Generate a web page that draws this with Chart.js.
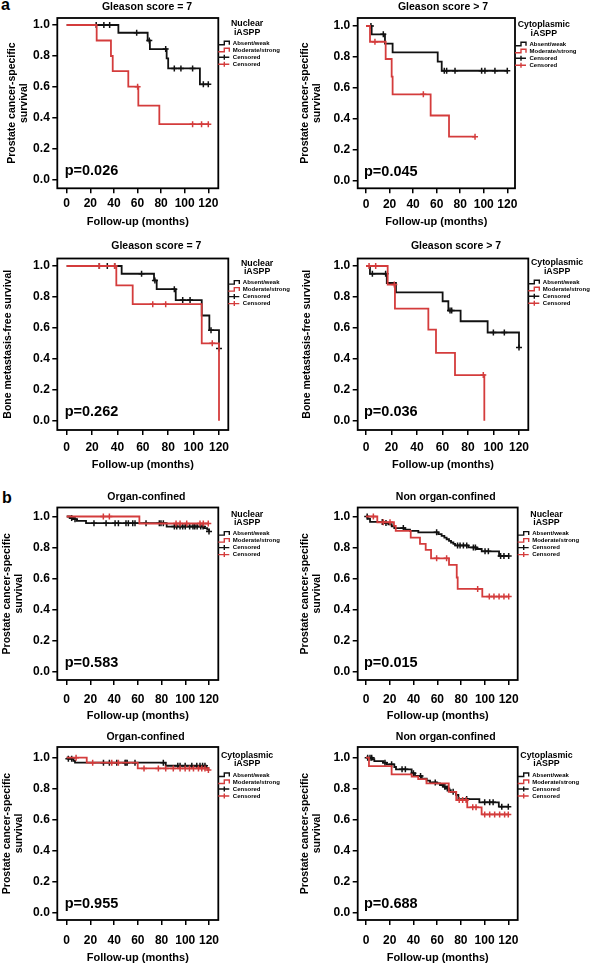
<!DOCTYPE html>
<html>
<head>
<meta charset="utf-8">
<script src="https://cdn.jsdelivr.net/npm/chart.js@4.4.1/dist/chart.umd.min.js"></script>
<style>
  html, body { margin: 0; padding: 0; background: #fff; }
  body { position: relative; width: 590px; height: 965px; overflow: hidden; font-family: 'Liberation Sans', Arial, sans-serif; }
  canvas { position: absolute; }
  .tag { position: absolute; font-weight: bold; font-size: 16px; line-height: 16px; }
</style>
</head>
<body>
<div class="tag" style="left:1px;top:-3.5px">a</div>
<div class="tag" style="left:2px;top:490px">b</div>
<script>
const xTicks = [0, 20, 40, 60, 80, 100, 120];
const yTicks = [0, 0.2, 0.4, 0.6, 0.8, 1.0];
const legendRows = ['Absent/weak', 'Moderate/strong', 'Censored', 'Censored'];

const panelTitles = ['Gleason score = 7', 'Gleason score > 7', 'Gleason score = 7', 'Gleason score > 7',
  'Organ-confined', 'Non organ-confined', 'Organ-confined', 'Non organ-confined'];
const pValues = ['p=0.026', 'p=0.045', 'p=0.262', 'p=0.036', 'p=0.583', 'p=0.015', 'p=0.955', 'p=0.688'];
const stainings = ['Nuclear', 'Cytoplasmic', 'Nuclear', 'Cytoplasmic', 'Nuclear', 'Nuclear', 'Cytoplasmic', 'Cytoplasmic'];
const yTitlePCSS = ['Prostate cancer-specific', 'survival'];
const yTitleBMFS = 'Bone metastasis-free survival';
const xTitle = 'Follow-up (months)';

// step times (months), survival after each step, censor times
// a: cancer-specific survival, Gleason 7, nuclear
const p1WeakT = [0, 43.8, 68.6, 70.5, 84.7, 86, 112.9, 120];
const p1WeakS = [1, 0.95, 0.90, 0.845, 0.785, 0.72, 0.617, 0.617];
const p1WeakC = [25, 31.5, 36.4, 59.3, 70, 83.9, 91.2, 96.8, 106.7, 115.8, 120];
const p1StrongT = [0, 25.4, 37.5, 39, 52.2, 60.7, 78.5, 120];
const p1StrongS = [1, 0.9, 0.8, 0.703, 0.602, 0.48, 0.36, 0.36];
const p1StrongC = [60.1, 106.7, 114.3, 120];

// a: cancer-specific survival, Gleason > 7, cytoplasmic
const p2WeakT = [0, 4.8, 16.1, 22.6, 60.9, 64.3, 120];
const p2WeakS = [1, 0.946, 0.886, 0.829, 0.769, 0.71, 0.71];
const p2WeakC = [4.2, 14.7, 66.5, 68.5, 75.6, 98.2, 101, 109.5, 120];
const p2StrongT = [0, 3.4, 16.7, 21.8, 22.6, 54.9, 70.5, 92.6];
const p2StrongS = [1, 0.898, 0.786, 0.672, 0.557, 0.42, 0.283, 0.283];
const p2StrongC = [7.6, 48.7, 92.6];

// a: bone metastasis-free, Gleason 7, nuclear
const p3WeakT = [0, 43.3, 68.8, 70.9, 85.9, 106.4, 112.4, 120];
const p3WeakS = [1, 0.95, 0.907, 0.85, 0.78, 0.68, 0.585, 0.467];
const p3WeakC = [25.7, 32, 37.8, 59, 69.5, 84.8, 91.4, 97.2, 113.7, 120];
const p3StrongT = [0, 39.1, 52, 106.4, 120];
const p3StrongS = [1, 0.875, 0.753, 0.5, 0];
const p3StrongC = [25.7, 37.8, 67.8, 78, 114.7];

// a: bone metastasis-free, Gleason > 7, cytoplasmic
const p4WeakT = [0, 3.1, 16.3, 23.5, 60.1, 64.6, 74.2, 95.4, 120];
const p4WeakS = [1, 0.95, 0.89, 0.83, 0.772, 0.712, 0.643, 0.57, 0.473];
const p4WeakC = [5, 15.4, 65.9, 67.2, 99.9, 108.5, 120];
const p4StrongT = [0, 17, 22.7, 48.9, 54.9, 69.8, 92.8];
const p4StrongS = [1, 0.88, 0.725, 0.589, 0.439, 0.295, 0];
const p4StrongC = [2.4, 7.6, 22.2, 92];

// b: organ-confined, nuclear
const p5WeakT = [0, 2.8, 5.6, 8.4, 16.3, 84.3, 115.8, 118.5, 120];
const p5WeakS = [1, 0.99, 0.983, 0.972, 0.957, 0.935, 0.925, 0.915, 0.903];
const p5WeakC = [4.2, 7, 23, 33.2, 40.8, 43.6, 50, 52, 55.7, 57.6, 66.9, 78.1, 79.5, 81.5, 90.8, 92.8,
  95.6, 97.8, 100, 103.7, 106.5, 108, 110, 113, 115, 120];
const p5StrongT = [0, 61.3, 120];
const p5StrongS = [1, 0.955, 0.955];
const p5StrongC = [30.9, 36, 92.2, 95.6, 101.2, 112.4, 115.2, 119.4];

// b: non organ-confined, nuclear
const p6WeakT = [0, 1.4, 3.4, 15.4, 18.8, 21.6, 23.8, 32.8, 37, 44, 60.8, 63.6, 65.9, 67.8, 69.8, 71.5,
  73.5, 74.9, 86.1, 93.1, 97.3, 111.9, 120];
const p6WeakS = [1, 0.985, 0.965, 0.958, 0.95, 0.937, 0.925, 0.915, 0.907, 0.898, 0.886, 0.875, 0.864,
  0.853, 0.843, 0.832, 0.823, 0.813, 0.80, 0.79, 0.775, 0.745, 0.745];
const p6WeakC = [1, 13.7, 16.8, 31.4, 59.4, 77, 79.1, 81.9, 84.7, 90.3, 92, 100.1, 102.9, 113.2, 116, 120];
const p6StrongT = [0, 9.5, 23.5, 25, 37.6, 45.4, 50.2, 54.7, 69.8, 76.3, 77.1, 97.8, 120];
const p6StrongS = [1, 0.963, 0.94, 0.907, 0.864, 0.823, 0.785, 0.73, 0.687, 0.606, 0.532, 0.483, 0.483];
const p6StrongC = [6.2, 14.6, 20.2, 59.4, 67.8, 93.9, 103.7, 107.6, 111.9, 116, 120];

// b: organ-confined, cytoplasmic
const p7WeakT = [0, 0.8, 5.6, 7, 83.5, 117.5, 119.5, 120];
const p7WeakS = [1, 0.994, 0.98, 0.968, 0.948, 0.935, 0.92, 0.92];
const p7WeakC = [1.4, 4.2, 31, 36, 42.2, 49.2, 50, 51, 57.6, 81.5, 93.7, 95.6, 99.9, 105.5, 109.7, 112.4,
  114.6, 116.6];
const p7StrongT = [0, 16.9, 59.9, 119.5, 120];
const p7StrongS = [1, 0.968, 0.931, 0.92, 0.92];
const p7StrongC = [7.9, 21.9, 38, 43.6, 65.2, 77.3, 83.5, 89.9, 95.6, 99.9, 103.5, 106.9, 111.1, 113.9,
  116.6, 119.5];

// b: non organ-confined, cytoplasmic
const p8WeakT = [0, 5.3, 7, 14.6, 17.4, 23.9, 25.3, 38.5, 41.3, 47, 51.2, 54, 59.6, 62.4, 65.2, 67.5,
  69.8, 71.5, 75.9, 77.9, 95.6, 112, 120];
const p8WeakS = [1, 0.99, 0.978, 0.968, 0.957, 0.94, 0.925, 0.9, 0.882, 0.865, 0.852, 0.84, 0.834,
  0.824, 0.813, 0.802, 0.79, 0.78, 0.76, 0.733, 0.712, 0.684, 0.684];
const p8WeakC = [1.4, 3.4, 4.8, 16, 21.6, 30.4, 33.2, 40, 46, 58.4, 66.5, 68.6, 73.5, 84.9, 100.1,
  104.3, 107.2, 114.5, 120];
const p8StrongT = [0, 2.5, 21.6, 38.5, 44, 51, 69.8, 76.1, 85.4, 97.5, 120];
const p8StrongS = [1, 0.946, 0.893, 0.878, 0.862, 0.835, 0.78, 0.727, 0.68, 0.634, 0.634];
const p8StrongC = [78.6, 81.5, 84.4, 90, 92.8, 100.1, 104.3, 108.5, 112.7, 116.9, 120];

const curves = [
  [p1WeakT, p1WeakS, p1WeakC, p1StrongT, p1StrongS, p1StrongC],
  [p2WeakT, p2WeakS, p2WeakC, p2StrongT, p2StrongS, p2StrongC],
  [p3WeakT, p3WeakS, p3WeakC, p3StrongT, p3StrongS, p3StrongC],
  [p4WeakT, p4WeakS, p4WeakC, p4StrongT, p4StrongS, p4StrongC],
  [p5WeakT, p5WeakS, p5WeakC, p5StrongT, p5StrongS, p5StrongC],
  [p6WeakT, p6WeakS, p6WeakC, p6StrongT, p6StrongS, p6StrongC],
  [p7WeakT, p7WeakS, p7WeakC, p7StrongT, p7StrongS, p7StrongC],
  [p8WeakT, p8WeakS, p8WeakC, p8StrongT, p8StrongS, p8StrongC]
];

// page geometry of each panel (px)
const geo = [
  {cx: 0,   cy: 0,   ch: 232, box: [57.3, 18, 218.3, 188.3],   x0: 66.7, x120: 208.3, y1: 25,    y0: 180,   tt: [147, 7],       leg: 24,    yt: 12,    xt: 221.7, tp: 2.8},
  {cx: 295, cy: 0,   ch: 232, box: [357.7, 18, 515, 188.3],    x0: 366,  x120: 507.3, y1: 26,    y0: 180.3, tt: [443, 7],       leg: 25,    yt: 305,   xt: 221.7, tp: 3.8},
  {cx: 0,   cy: 234, ch: 238, box: [57.3, 258.5, 228.3, 430],  x0: 66.7, x120: 219,   y1: 266,   y0: 420.7, tt: [156.3, 246],   leg: 263.3, yt: 8.3,   xt: 465,   tp: 5.4},
  {cx: 295, cy: 234, ch: 238, box: [357.7, 258.5, 528.3, 430], x0: 366,  x120: 519,   y1: 266,   y0: 420.7, tt: [456, 246],     leg: 263,   yt: 306.7, xt: 465,   tp: 5.4},
  {cx: 0,   cy: 484, ch: 240, box: [57.3, 507.5, 218.3, 680],  x0: 66.7, x120: 209,   y1: 516.5, y0: 671.7, tt: [146.3, 496.7], leg: 514.3, yt: 7.3,   xt: 716,   tp: 7.4},
  {cx: 295, cy: 484, ch: 240, box: [357.7, 507.5, 517.7, 680], x0: 366,  x120: 508.7, y1: 516.5, y0: 671.3, tt: [445.7, 496.7], leg: 514.3, yt: 305,   xt: 716,   tp: 7.4},
  {cx: 0,   cy: 726, ch: 239, box: [57.3, 747, 218.3, 920],    x0: 66.7, x120: 209,   y1: 757.7, y0: 912.7, tt: [145.5, 737.3], leg: 755.7, yt: 7.3,   xt: 957.7, tp: 8.1},
  {cx: 295, cy: 726, ch: 239, box: [357.7, 747, 517.7, 920],   x0: 366,  x120: 508.3, y1: 757.7, y0: 912.7, tt: [445.7, 737.3], leg: 755.7, yt: 305,   xt: 957.7, tp: 8.1}
];

const FONT = "'Liberation Sans', Arial, sans-serif";
const BLACK = '#111';
const RED = '#d43c3c';
const CW = 295;

function stepPoints(t, s) {
  return t.map((v, i) => ({x: v, y: s[i]}));
}
// censored marks sit on the curve at their time
function censorPoints(t, s, c) {
  return c.map(ct => {
    let y = s[0];
    for (let i = 0; i < t.length; i++) if (t[i] <= ct) y = s[i];
    return {x: ct, y};
  });
}

function makePanel(i) {
  const g = geo[i];
  const [wT, wS, wC, sT, sS, sC] = curves[i];
  const [L, T, R, B] = g.box;
  const kx = (g.x120 - g.x0) / 120;
  const ky = g.y0 - g.y1;
  const xmin = (L - g.x0) / kx, xmax = 120 + (R - g.x120) / kx;
  const ymax = 1 + (g.y1 - T) / ky, ymin = -(B - g.y0) / ky;
  const isPCSS = i !== 2 && i !== 3;

  const cv = document.createElement('canvas');
  cv.width = CW; cv.height = g.ch;
  cv.style.left = g.cx + 'px'; cv.style.top = g.cy + 'px';
  document.body.appendChild(cv);

  const deco = {
    id: 'deco',
    afterDraw(chart) {
      const ctx = chart.ctx, a = chart.chartArea;
      ctx.save();
      ctx.strokeStyle = '#000';
      ctx.lineWidth = 1.8;
      ctx.strokeRect(a.left, a.top, a.right - a.left, a.bottom - a.top);

      ctx.fillStyle = '#000';
      ctx.textBaseline = 'middle';
      ctx.textAlign = 'center';
      ctx.font = 'bold 10.5px ' + FONT;
      ctx.fillText(panelTitles[i], g.tt[0] - g.cx, g.tt[1] - g.cy);

      ctx.textAlign = 'left';
      ctx.font = 'bold 14.5px ' + FONT;
      ctx.fillText(pValues[i], chart.scales.x.getPixelForValue(0) - 2, chart.scales.y.getPixelForValue(0.055));

      // legend
      const ly = g.leg - g.cy;
      ctx.textAlign = 'center';
      ctx.font = 'bold 8.8px ' + FONT;
      ctx.fillText(stainings[i], a.right + 28.8, ly);
      ctx.fillText('iASPP', a.right + 28.8, ly + 8.3);
      ctx.textAlign = 'left';
      ctx.font = 'bold 6px ' + FONT;
      legendRows.forEach((txt, r) => {
        const y = ly + 19.3 + r * 7;
        const col = r % 2 === 0 ? BLACK : RED;
        ctx.strokeStyle = col;
        ctx.lineWidth = 1.4;
        ctx.beginPath();
        if (r < 2) {
          ctx.moveTo(a.right, y + 1.5);
          ctx.lineTo(a.right + 6, y + 1.5);
          ctx.lineTo(a.right + 6, y - 2);
          ctx.lineTo(a.right + 11, y - 2);
          ctx.lineTo(a.right + 11, y + 1.5);
        } else {
          ctx.moveTo(a.right, y);
          ctx.lineTo(a.right + 11, y);
          ctx.moveTo(a.right + 6, y - 2.5);
          ctx.lineTo(a.right + 6, y + 2.5);
        }
        ctx.stroke();
        ctx.fillStyle = '#000';
        ctx.fillText(txt, a.right + 14.5, y);
      });
      ctx.restore();
    }
  };

  const tickFont = {family: FONT, size: 12, weight: 'bold'};
  const xLh = 13.2;

  new Chart(cv, {
    type: 'line',
    data: {
      datasets: [
        {data: stepPoints(wT, wS), borderColor: BLACK, stepped: true, borderWidth: 1.8, pointRadius: 0, fill: false, order: 3},
        {data: censorPoints(wT, wS, wC), showLine: false, pointStyle: 'cross', pointRadius: 3,
         pointBorderWidth: 1.5, pointBorderColor: BLACK, borderColor: BLACK, order: 2},
        {data: stepPoints(sT, sS), borderColor: RED, stepped: true, borderWidth: 1.8, pointRadius: 0, fill: false, order: 1},
        {data: censorPoints(sT, sS, sC), showLine: false, pointStyle: 'cross', pointRadius: 3,
         pointBorderWidth: 1.5, pointBorderColor: RED, borderColor: RED, order: 0}
      ]
    },
    options: {
      responsive: false,
      animation: false,
      devicePixelRatio: 1,
      events: [],
      layout: {
        autoPadding: false,
        padding: {left: 0, top: T - g.cy, right: g.cx + CW - R, bottom: 0}
      },
      plugins: {legend: {display: false}, title: {display: false}, tooltip: {enabled: false}},
      scales: {
        x: {
          type: 'linear', min: xmin, max: xmax,
          afterBuildTicks: s => { s.ticks = xTicks.map(v => ({value: v})); },
          afterFit: s => { s.height = g.cy + g.ch - B; },
          border: {display: false},
          grid: {drawOnChartArea: false, drawTicks: true, tickLength: 5, color: '#000', lineWidth: 1.5},
          ticks: {color: '#000', font: tickFont, padding: g.tp, maxRotation: 0, autoSkip: false, callback: v => String(v)},
          title: {display: true, text: xTitle, color: '#000',
            font: {family: FONT, size: 11, weight: 'bold', lineHeight: xLh + 'px'},
            padding: {top: 0, bottom: Math.max(0, g.cy + g.ch - g.xt - xLh / 2)}}
        },
        y: {
          type: 'linear', min: ymin, max: ymax,
          afterBuildTicks: s => { s.ticks = yTicks.map(v => ({value: v})); },
          afterFit: s => { s.width = L - g.cx; },
          border: {display: false},
          grid: {drawOnChartArea: false, drawTicks: true, tickLength: 5, color: '#000', lineWidth: 1.5},
          ticks: {color: '#000', font: tickFont, padding: 2.5, callback: v => v.toFixed(1)},
          title: {display: true, text: isPCSS ? yTitlePCSS : yTitleBMFS, color: '#000',
            font: {family: FONT, size: 10.5, weight: 'bold', lineHeight: '11.7px'},
            padding: {top: g.yt - g.cx - 5.85, bottom: 0}}
        }
      }
    },
    plugins: [deco]
  });
}

for (let i = 0; i < geo.length; i++) makePanel(i);
</script>
</body>
</html>
